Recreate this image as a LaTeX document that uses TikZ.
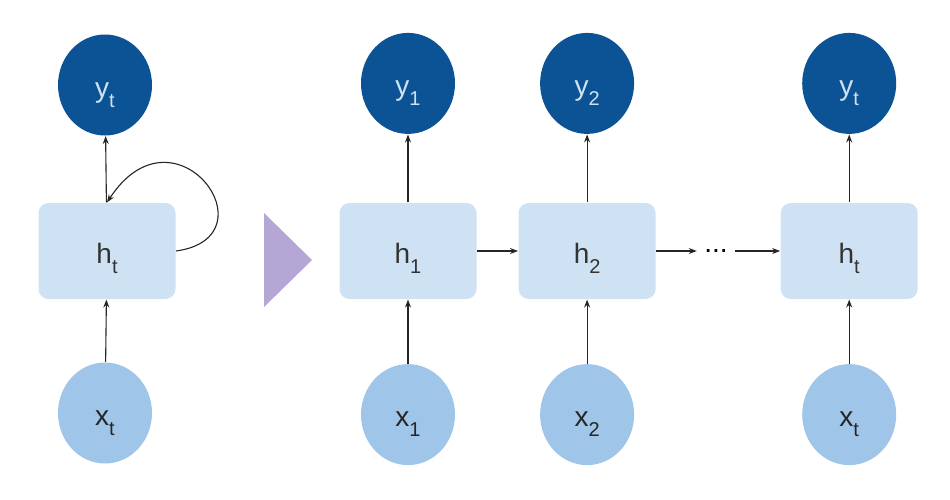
\documentclass[tikz,border=0pt]{standalone}
\usepackage{fontspec}
\setmainfont{Liberation Sans}
\usetikzlibrary{arrows.meta,shapes.geometric,positioning}

\definecolor{darkblue}{HTML}{0B5394}
\definecolor{lightblue}{HTML}{9FC5E8}
\definecolor{cellblue}{HTML}{CFE2F3}
\definecolor{lavender}{HTML}{B4A7D6}

\newcommand{\lbl}[2]{#1\raisebox{-10pt}{\fontsize{20}{20}\selectfont #2}}

\begin{document}
\begin{tikzpicture}[
        x=1pt, y=-1pt,
        node distance=66pt and 41pt,
        every node/.style={font=\fontsize{28}{30}\selectfont, text height=30pt, text depth=6pt, inner sep=0pt},
        every path/.style={draw=black!85, line width=1.1pt, -{Stealth[length=8pt,width=6pt]}},
        cell/.style={rectangle, rounded corners=10pt, fill=cellblue, minimum width=137pt, minimum height=96pt, text=black!80},
        innode/.style={ellipse, fill=lightblue, minimum width=94pt, minimum height=101pt, text=black!85},
        outnode/.style={ellipse, fill=darkblue, minimum width=94pt, minimum height=101pt, text=cellblue}
    ]
    \useasboundingbox[draw=none, -] (0,0) rectangle (950,499);

    % Folded network
    \node[cell] (hl) at (107,251) {\lbl{h}{t}};
    \node[outnode] (yl) at (105,85) {\lbl{y}{t}};
    \node[innode] (xl) at (105,413) {\lbl{x}{t}};

    \draw (xl) -- (hl);
    \draw (hl) -- (yl);
    \draw (hl.east) .. controls +(100,-14) and +(68,-104) .. (hl.north);

    % Unfold arrow
    \fill[lavender, draw=none, -] (264,213) -- (264,307) -- (312,260) -- cycle;

    % Unfolded network
    \node[cell] (h1) at (408,251) {\lbl{h}{1}};
    \node[cell, right=of h1] (h2) {\lbl{h}{2}};
    \node[cell, right=124pt of h2] (ht) {\lbl{h}{t}};
    \node[text height=2pt, text depth=0pt, inner sep=7pt] (dots) at (716,251) {...};

    \node[outnode, above=68pt of h1] (y1) {\lbl{y}{1}};
    \node[outnode, above=68pt of h2] (y2) {\lbl{y}{2}};
    \node[outnode, above=68pt of ht] (yt) {\lbl{y}{t}};

    \node[innode, below=64pt of h1] (x1) {\lbl{x}{1}};
    \node[innode, below=64pt of h2] (x2) {\lbl{x}{2}};
    \node[innode, below=64pt of ht] (xt) {\lbl{x}{t}};

    % Edges
    \draw (x1) -- (h1);
    \draw (x2) -- (h2);
    \draw (xt) -- (ht);
    \draw (h1) -- (y1);
    \draw (h2) -- (y2);
    \draw (ht) -- (yt);
    \draw (h1) -- (h2);
    \draw (h2) -- (dots);
    \draw (dots) -- (ht);

\end{tikzpicture}
\end{document}
